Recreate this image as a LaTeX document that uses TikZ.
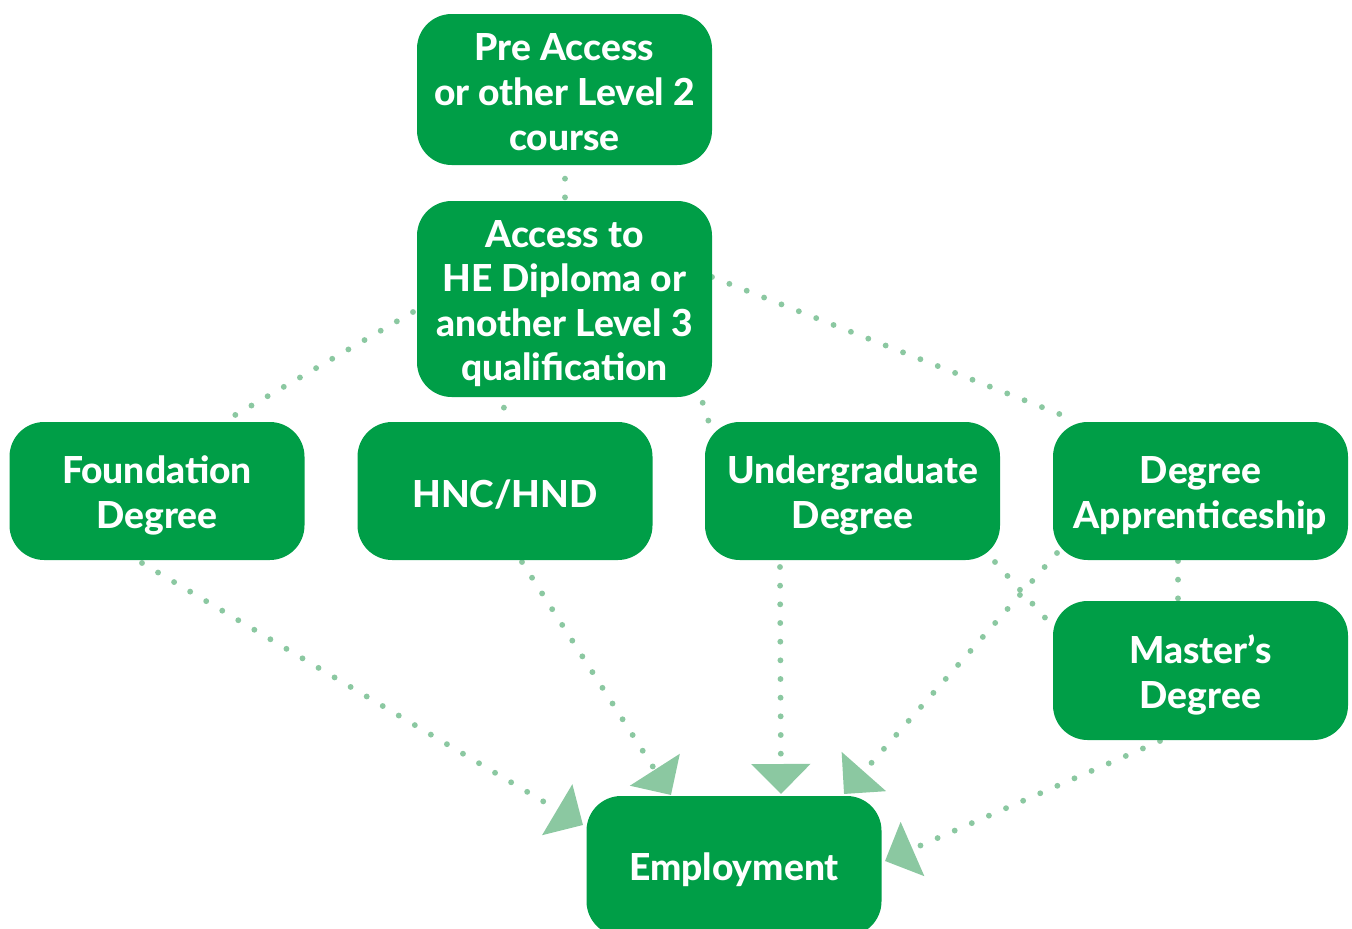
\documentclass[tikz,border=0pt]{standalone}
\usepackage{fontspec}
\setmainfont{Lato}[BoldFont={Lato Heavy}]
\usetikzlibrary{arrows.meta,backgrounds}
\definecolor{boxgreen}{RGB}{0,158,71}
\definecolor{dotgreen}{RGB}{139,200,161}
\begin{document}
\begin{tikzpicture}[x=0.75pt,y=-0.75pt,
  box/.style={draw=none, fill=boxgreen, rounded corners=26pt,
    minimum width=221.25pt, minimum height=103.5pt, inner sep=0pt},
  txt/.style={text=white, font=\fontsize{27.9}{33.4}\selectfont\bfseries,
    align=center, inner sep=0pt},
  link/.style={draw=dotgreen, line width=4.4pt, line cap=round, dash pattern=on 0pt off 14pt},
  arr/.style={link, -{Triangle[length=22.5pt,width=43.5pt]}}]
\useasboundingbox (0,0) rectangle (1352,928);
\clip (0,0) rectangle (1352,928);
% boxes
\node[box, minimum height=113.25pt] (pre) at (564.5,89.5) {};
\node[box, minimum height=147pt] (acc) at (564.5,299) {};
\node[box] (fd) at (157,491) {};
\node[box] (hnc) at (505,491) {};
\node[box] (ug) at (852.5,491) {};
\node[box] (da) at (1200.5,491) {};
\node[box, minimum height=104.25pt] (ms) at (1200.5,670.5) {};
\node[box, minimum height=105pt] (emp) at (734,866) {};
% texts
\node[txt] (preT) at ([yshift=-2pt]pre.center) {Pre Access\\or other Level 2\\course};
\node[txt] (accT) at ([yshift=-3.5pt]acc.center) {Access to\\HE Diploma or\\another Level 3\\qualification};
\node[txt] (fdT) at ([yshift=-3.5pt]fd.center) {Foundation\\Degree};
\node[txt] (hncT) at ([yshift=-2.5pt]hnc.center) {HNC/HND};
\node[txt] (ugT) at ([yshift=-3.5pt]ug.center) {Undergraduate\\Degree};
\node[txt] (daT) at ([yshift=-3.5pt]da.center) {Degree\\Apprenticeship};
\node[txt] (msT) at ([yshift=-3.5pt]ms.center) {Master’s\\Degree};
\node[txt] (empT) at ([yshift=-2.5pt]emp.center) {Employment};
% connector end points
\coordinate (preS) at (565,160);
\coordinate (accN) at (565,205);
\coordinate (accFd) at (413,312);
\coordinate (fdAcc) at (230,418);
\coordinate (accHnc) at (503,389);
\coordinate (hncAcc) at (505,430);
\coordinate (accUg) at (697,385);
\coordinate (ugAcc) at (712,432);
\coordinate (accDa) at (712,277);
\coordinate (daAcc) at (1072,419);
\coordinate (ugMs) at (995,562);
\coordinate (msUg) at (1048,621);
\coordinate (daMs) at (1178,561);
\coordinate (msDa) at (1178,606);
\coordinate (fdE) at (142,563);
\coordinate (eFd) at (583,825);
\coordinate (hncE) at (522,562);
\coordinate (eHnc) at (671,795);
\coordinate (ugE) at (780,567);
\coordinate (eUg) at (781,794);
\coordinate (daE) at (1057,553);
\coordinate (eDa) at (844,794);
\coordinate (msE) at (1160,741);
\coordinate (eMs) at (885,861);
\begin{scope}[on background layer]
\draw[link] (preS) -- (accN);
\draw[link] (accFd) -- (fdAcc);
\draw[link] (accHnc) -- (hncAcc);
\draw[link] (accUg) -- (ugAcc);
\draw[link] (accDa) -- (daAcc);
\draw[link] (ugMs) -- (msUg);
\draw[link] (daMs) -- (msDa);
\draw[arr] (fdE) -- (eFd);
\draw[arr] (hncE) -- (eHnc);
\draw[arr] (ugE) -- (eUg);
\draw[arr] (daE) -- (eDa);
\draw[arr] (msE) -- (eMs);
\end{scope}
\end{tikzpicture}
\end{document}
